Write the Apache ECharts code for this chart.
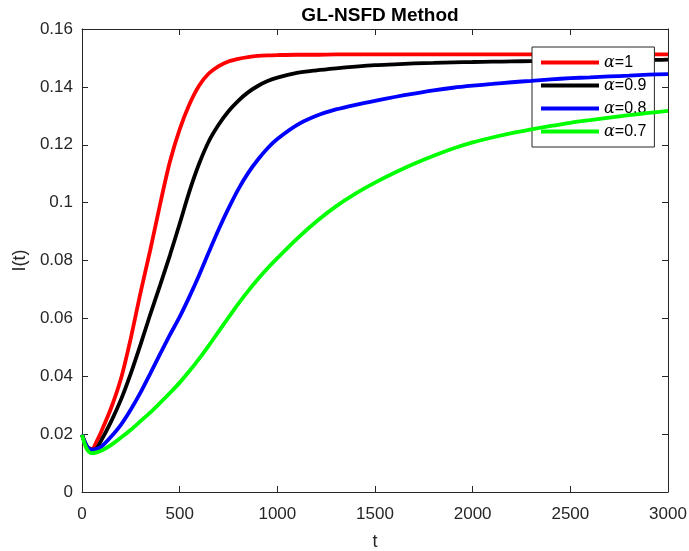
<!DOCTYPE html>
<html>
<head>
<meta charset="utf-8">
<script src="https://cdn.jsdelivr.net/npm/echarts@6/dist/echarts.min.js"></script>
<style>html,body{margin:0;padding:0;background:#fff;}#c{width:689px;height:551px;}</style>
</head>
<body>
<div id="c"></div>
<script>
const tValues = [0,25,50,75,100,150,200,250,300,350,400,450,500,550,600,650,700,750,800,850,900,950,1000,
  1100,1200,1300,1400,1500,1600,1700,1800,1900,2000,2100,2200,2300,2400,2500,2600,2700,2800,2900,3000];
const alpha1  = [0.0198,0.0158,0.0148,0.0175,0.0211,0.0292,0.0393,0.0532,0.0690,0.0838,0.0995,0.1141,0.1253,0.1340,0.1405,0.1447,0.1472,0.1488,0.1497,0.1503,0.1507,0.1509,0.1510,
  0.1511,0.1511,0.1512,0.1512,0.1512,0.1512,0.1512,0.1512,0.1512,0.1512,0.1512,0.1512,0.1512,0.1512,0.1512,0.1512,0.1512,0.1512,0.1512,0.1512];
const alpha09 = [0.0198,0.0158,0.0146,0.0152,0.0180,0.0245,0.0320,0.0410,0.0510,0.0615,0.0715,0.0818,0.0927,0.1039,0.1135,0.1213,0.1270,0.1316,0.1352,0.1381,0.1403,0.1420,0.1432,
  0.1448,0.1457,0.1464,0.1470,0.1475,0.1478,0.1481,0.1483,0.1485,0.1486,0.1487,0.1488,0.1489,0.1490,0.1491,0.1492,0.1492,0.1493,0.1493,0.1494];
const alpha08 = [0.0198,0.0158,0.0146,0.0149,0.0157,0.0192,0.0233,0.0285,0.0344,0.0410,0.0477,0.0543,0.0605,0.0675,0.0750,0.0830,0.0908,0.0980,0.1046,0.1102,0.1148,0.1188,0.1220,
  0.1268,0.1300,0.1322,0.1338,0.1352,0.1365,0.1377,0.1388,0.1397,0.1404,0.1410,0.1416,0.1421,0.1426,0.1430,0.1433,0.1436,0.1439,0.1442,0.1444];
const alpha07 = [0.0198,0.0148,0.0134,0.0137,0.0143,0.0163,0.0188,0.0215,0.0245,0.0275,0.0308,0.0342,0.0378,0.0418,0.0461,0.0507,0.0555,0.0603,0.0650,0.0694,0.0735,0.0773,0.0808,
  0.0875,0.0935,0.0987,0.1031,0.1069,0.1103,0.1134,0.1162,0.1187,0.1208,0.1225,0.1240,0.1253,0.1265,0.1276,0.1285,0.1294,0.1302,0.1310,0.1317];
const seriesNames = ['\u03b1=1','\u03b1=0.9','\u03b1=0.8','\u03b1=0.7'];
const xTickLabels = ['0','500','1000','1500','2000','2500','3000'];
const yTickLabels = ['0','0.02','0.04','0.06','0.08','0.1','0.12','0.14','0.16'];

const colors = ['#ff0000','#000000','#0000ff','#00ff00'];
const allData = [alpha1, alpha09, alpha08, alpha07];
const axisColor = '#262626';
const font = 'Liberation Sans, Arial, Helvetica, sans-serif';

const chart = echarts.init(document.getElementById('c'), null, {renderer:'canvas'});

function baseX(extra) {
  return Object.assign({
    type:'value', min:0, max:3000, interval:500,
    axisLine:{show:true, onZero:false, lineStyle:{color:axisColor, width:1}},
    axisTick:{show:true, inside:true, length:6, lineStyle:{color:axisColor}},
    splitLine:{show:false}
  }, extra);
}
function baseY(extra) {
  return Object.assign({
    type:'value', min:0, max:0.16, interval:0.02,
    axisLine:{show:true, onZero:false, lineStyle:{color:axisColor, width:1}},
    axisTick:{show:true, inside:true, length:6, lineStyle:{color:axisColor}},
    splitLine:{show:false}
  }, extra);
}

const option = {
  backgroundColor:'#ffffff',
  animation:false,
  title:{
    text:'GL-NSFD Method', left:375, top:1, textAlign:'center',
    textStyle:{fontFamily:font, fontWeight:'bold', fontSize:19, color:'#000'}
  },
  grid:{left:82, right:21, top:29, bottom:59, containLabel:false, outerBoundsMode:'none'},
  legend:{
    orient:'vertical', left:532, top:47,
    data:seriesNames,
    icon:'rect', itemWidth:58, itemHeight:4, itemGap:6,
    padding:[7,8,7,9],
    backgroundColor:'#ffffff', borderColor:axisColor, borderWidth:1,
    formatter: name => '{a|\u03b1}{b|' + name.slice(1) + '}',
    textStyle:{
      fontFamily:font, fontSize:16, color:'#000', lineHeight:17,
      rich:{
        a:{fontFamily:'DejaVu Serif, Liberation Serif, serif', fontStyle:'italic', fontSize:16, color:'#000'},
        b:{fontFamily:font, fontSize:16, color:'#000'}
      }
    }
  },
  xAxis:[
    baseX({
      position:'bottom', name:'t', nameLocation:'middle', nameGap:41,
      nameTextStyle:{fontFamily:font, fontSize:18, color:axisColor},
      axisLabel:{show:true, margin:14, fontFamily:font, fontSize:17, color:axisColor,
        formatter: v => xTickLabels[Math.round(v/500)]}
    }),
    baseX({position:'top', axisLabel:{show:false}})
  ],
  yAxis:[
    baseY({
      position:'left', name:'I(t)', nameLocation:'middle', nameGap:52,
      nameTextStyle:{fontFamily:font, fontSize:18, color:axisColor},
      axisLabel:{show:true, margin:9, fontFamily:font, fontSize:17, color:axisColor,
        formatter: v => yTickLabels[Math.round(v/0.02)]}
    }),
    baseY({position:'right', axisLabel:{show:false}})
  ],
  series: allData.map((arr, i) => ({
    name: seriesNames[i],
    type:'line',
    xAxisIndex:0, yAxisIndex:0,
    data: tValues.map((t, j) => [t, arr[j]]),
    smooth:0.3,
    showSymbol:false, symbol:'none',
    clip:true,
    lineStyle:{color:colors[i], width:3.8},
    itemStyle:{color:colors[i]},
    z: 2 + i
  }))
};
chart.setOption(option);
</script>
</body>
</html>
